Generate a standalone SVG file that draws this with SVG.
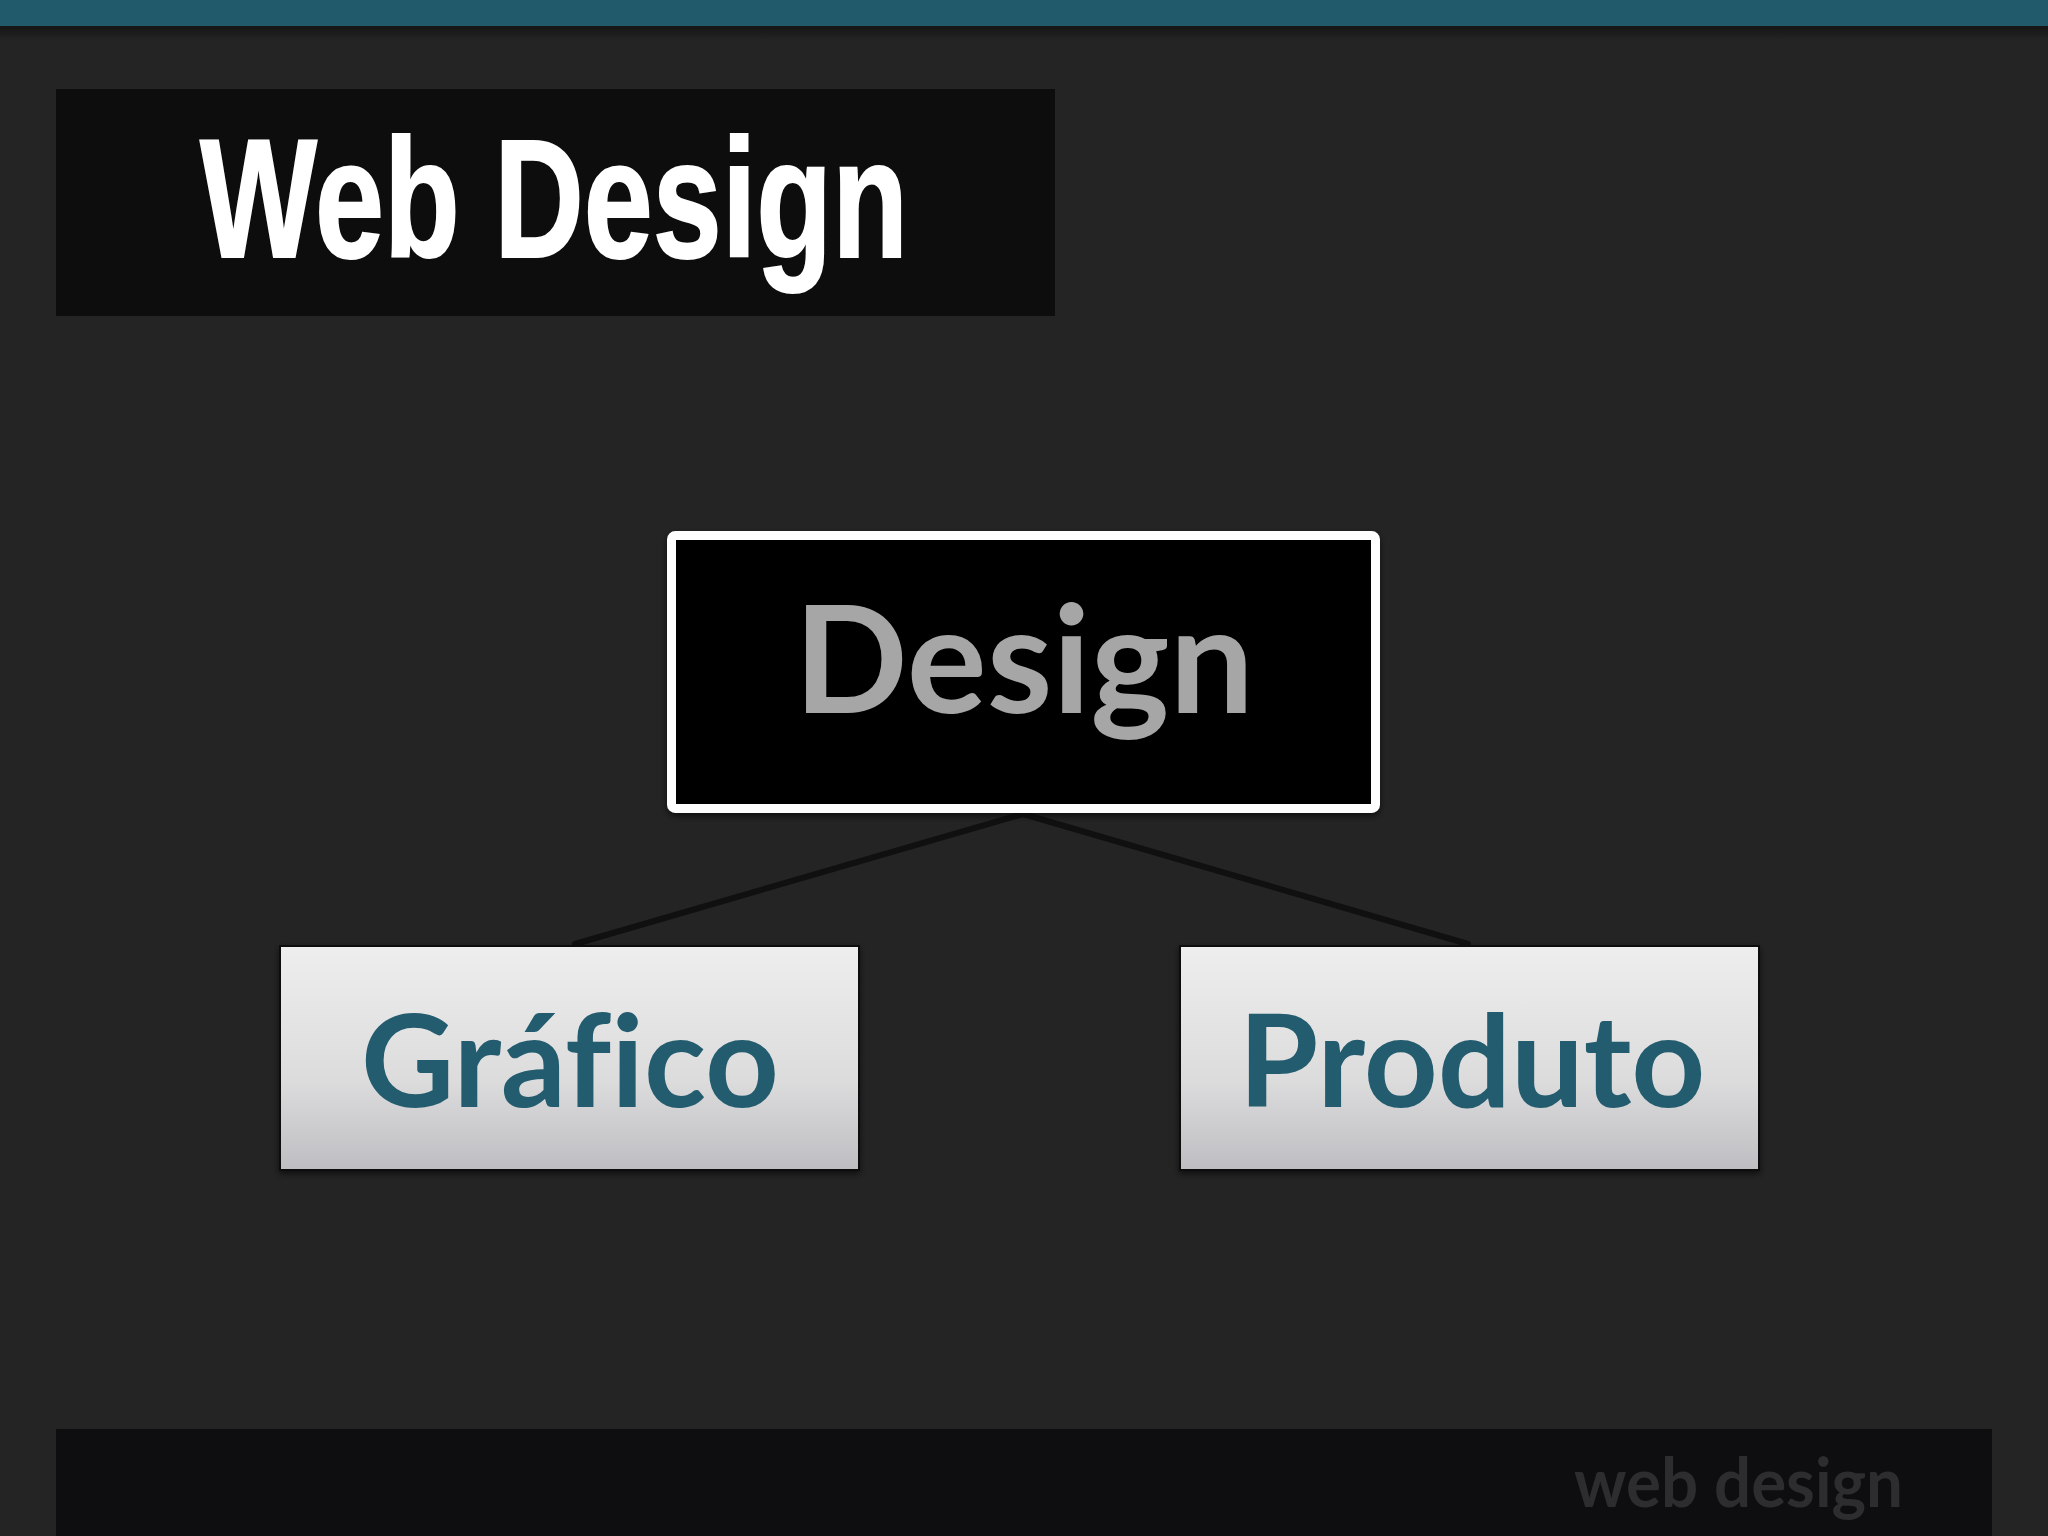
<svg xmlns="http://www.w3.org/2000/svg" width="2048" height="1536" viewBox="0 0 2048 1536">
  <defs>
    <linearGradient id="childFill" x1="0" y1="0" x2="0" y2="1">
      <stop offset="0" stop-color="#eeeeee"/>
      <stop offset="0.6" stop-color="#dcdcdd"/>
      <stop offset="1" stop-color="#bebdc1"/>
    </linearGradient>
    <linearGradient id="barShadow" x1="0" y1="0" x2="0" y2="1">
      <stop offset="0" stop-color="#151515"/>
      <stop offset="1" stop-color="#242424"/>
    </linearGradient>
    <filter id="shadow" x="-5%" y="-5%" width="110%" height="115%">
      <feDropShadow dx="0" dy="3" stdDeviation="3" flood-color="#000" flood-opacity="0.6"/>
    </filter>
  </defs>
  <style>
    text { font-variant-ligatures: none; }
    .child { fill: url(#childFill); stroke: #111; stroke-width: 2; filter: url(#shadow); }
    .childText { font-family: Lato, "Open Sans", "DejaVu Sans", sans-serif; font-weight: bold; font-size: 128px; fill: #235c6e; text-anchor: middle; }
    .conn { stroke: #101010; stroke-width: 6; stroke-linecap: round; fill: none; }
  </style>

  <rect x="0" y="0" width="2048" height="1536" fill="#242424"/>
  <rect x="0" y="26" width="2048" height="14" fill="url(#barShadow)"/>
  <rect x="0" y="0" width="2048" height="26" fill="#215b6b"/>

  <g id="title">
    <rect x="56" y="89" width="999" height="227" fill="#0d0d0d"/>
    <text x="200" y="257" font-family="'Liberation Sans', Arial, sans-serif" font-weight="bold" font-size="168" fill="#ffffff" stroke="#ffffff" stroke-width="2" textLength="708" lengthAdjust="spacingAndGlyphs">Web Design</text>
  </g>

  <g id="connectors">
    <line class="conn" x1="1023" y1="814" x2="575" y2="944"/>
    <line class="conn" x1="1023" y1="814" x2="1468" y2="944"/>
  </g>

  <g id="node-design">
    <rect x="671.5" y="535.5" width="704" height="273" rx="4" fill="#000000" stroke="#ffffff" stroke-width="9" filter="url(#shadow)"/>
    <text x="1024" y="713" font-family="Lato, 'Open Sans', 'DejaVu Sans', sans-serif" font-weight="bold" font-size="150" fill="#a6a6a6" text-anchor="middle" textLength="460" lengthAdjust="spacingAndGlyphs">Design</text>
  </g>

  <g id="node-grafico">
    <rect class="child" x="280" y="946" width="579" height="224"/>
    <text class="childText" x="570" y="1107" textLength="418" lengthAdjust="spacingAndGlyphs">Gráfico</text>
  </g>

  <g id="node-produto">
    <rect class="child" x="1180" y="946" width="579" height="224"/>
    <text class="childText" x="1472" y="1107" textLength="467" lengthAdjust="spacingAndGlyphs">Produto</text>
  </g>

  <g id="footer">
    <rect x="56" y="1429" width="1936" height="107" fill="#0e0e10"/>
    <text x="1574" y="1507" font-family="Lato, 'Open Sans', 'DejaVu Sans', sans-serif" font-weight="bold" font-size="68" fill="#2d2d30" textLength="329" lengthAdjust="spacingAndGlyphs">web design</text>
  </g>
</svg>
